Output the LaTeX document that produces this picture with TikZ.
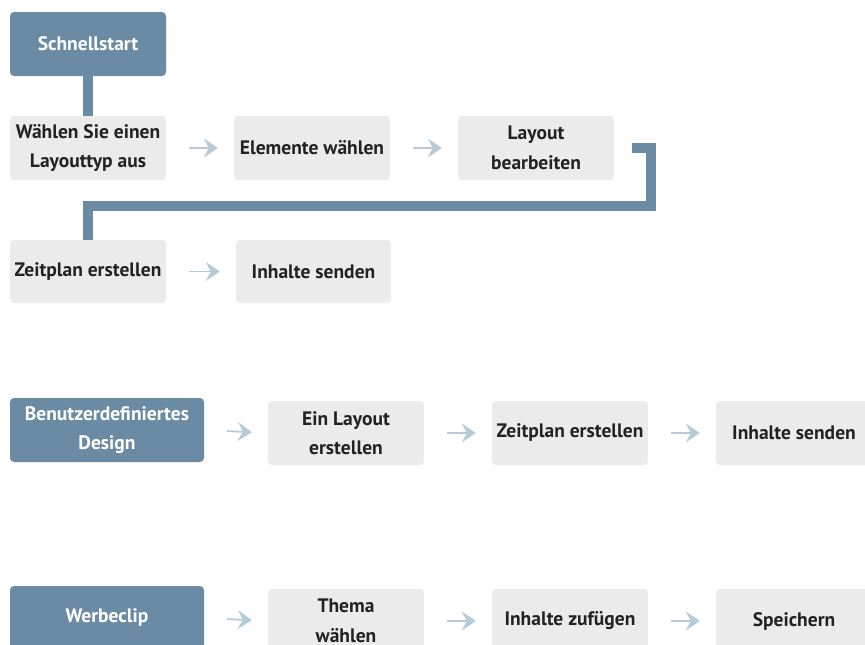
\documentclass[tikz,border=0pt]{standalone}
\usepackage{fontspec}
\setmainfont{PT Sans}
\usetikzlibrary{arrows.meta}
\definecolor{headblue}{HTML}{6B8BA4}
\definecolor{stepgray}{HTML}{EBEBEB}
\definecolor{arrowblue}{HTML}{B5CBDA}
\definecolor{steptext}{HTML}{222222}
\tikzset{
  startbox/.style={fill=headblue, text=white, rounded corners=4pt, minimum width=194pt, minimum height=64pt, inner sep=0pt, align=center, font=\fontsize{19.5}{29.5}\selectfont\bfseries},
  stepbox/.style={fill=stepgray, text=steptext, rounded corners=4pt, minimum width=156pt, minimum height=64pt, inner sep=0pt, align=center, font=\fontsize{19.5}{29.5}\selectfont\bfseries},
  flowarrow/.style={draw=arrowblue, line width=1.8pt, -{Stealth[length=14pt,width=19pt,inset=5pt]}, shorten <=23pt, shorten >=16pt},
  link/.style={draw=headblue, line width=10pt}
}
\begin{document}
\begin{tikzpicture}[x=1pt,y=-1pt]
\clip (0,0) rectangle (865,645);
% Schnellstart
\node [startbox, minimum width=156pt] (quick) at (88,44) {Schnellstart};
\node [stepbox] (quicktype) at (88,148) {Wählen Sie einen\\Layouttyp aus};
\node [stepbox] (quickelem) at (312,148) {Elemente wählen};
\node [stepbox] (quickedit) at (536,148) {Layout\\bearbeiten};
\node [stepbox, minimum height=63pt] (quickplan) at (88,271.5) {Zeitplan erstellen};
\node [stepbox, minimum width=155pt, minimum height=63pt] (quicksend) at (313.5,271.5) {Inhalte senden};
\coordinate (quickbend) at (651,205.5);
\draw [link] (quick.south) -- (quicktype.north);
\draw [link] ([xshift=18pt]quickedit.east) -| (quickbend) -| (quickplan.north);
\draw [flowarrow] (quicktype.east) -- (quickelem.west);
\draw [flowarrow] (quickelem.east) -- (quickedit.west);
\draw [flowarrow] (quickplan.east) -- (quicksend.west);
%
% Benutzerdefiniertes Design
\node [startbox] (custom) at (107,430) {Benutzerdefiniertes\\Design};
\node [stepbox] (customlayout) at (346,433) {Ein Layout\\erstellen};
\node [stepbox] (customplan) at (570,433) {Zeitplan erstellen};
\node [stepbox] (customsend) at (794,433) {Inhalte senden};
\draw [flowarrow] (custom.east) -- (customlayout.west);
\draw [flowarrow] (customlayout.east) -- (customplan.west);
\draw [flowarrow] (customplan.east) -- (customsend.west);
%
% Werbeclip
\node [startbox] (clip) at (107,618) {Werbeclip};
\node [stepbox] (cliptheme) at (346,621) {Thema\\wählen};
\node [stepbox] (clipadd) at (570,621) {Inhalte zufügen};
\node [stepbox] (clipsave) at (794,621) {Speichern};
\draw [flowarrow] (clip.east) -- (cliptheme.west);
\draw [flowarrow] (cliptheme.east) -- (clipadd.west);
\draw [flowarrow] (clipadd.east) -- (clipsave.west);
\end{tikzpicture}
\end{document}
